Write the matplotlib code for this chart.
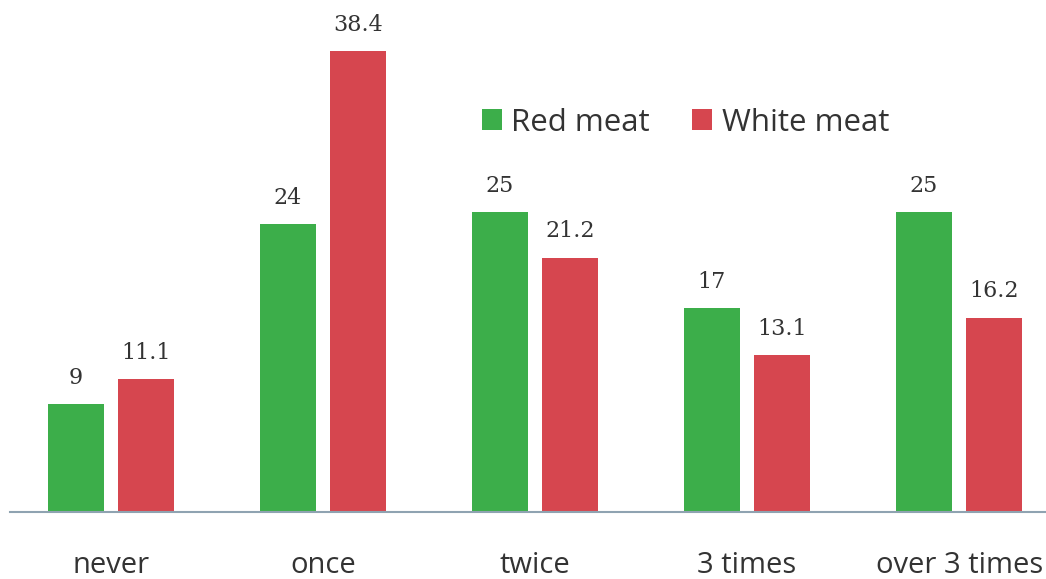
import numpy as np
import matplotlib.pyplot as plt

categories = ["never", "once", "twice", "3 times", "over 3 times"]
red_meat = [9, 24, 25, 17, 25]
white_meat = [11.1, 38.4, 21.2, 13.1, 16.2]
red_labels = ["9", "24", "25", "17", "25"]
white_labels = ["11.1", "38.4", "21.2", "13.1", "16.2"]

green = "#3cae4a"
red = "#d6464f"
font = ["Open Sans", "DejaVu Sans"]

fig = plt.figure(figsize=(10.46, 5.79), dpi=100)
ax = fig.add_axes([10 / 1046, 67 / 579, 1036 / 1046, 504 / 579])

x = np.arange(len(categories))
w = 0.264
off = 0.167
b1 = ax.bar(x - off, red_meat, w, color=green, label="Red meat")
b2 = ax.bar(x + off, white_meat, w, color=red, label="White meat")

# value labels sit about 20 px above each bar
for bars, labels in ((b1, red_labels), (b2, white_labels)):
    for bar, lab in zip(bars, labels):
        ax.annotate(lab, (bar.get_x() + bar.get_width() / 2, bar.get_height()),
                    xytext=(0, 14.5), textcoords="offset points",
                    ha="center", va="baseline", fontsize=16,
                    color="#333333", family="DejaVu Serif")

ax.set_xlim(-0.476, 4.41)
ax.set_ylim(0, 42)
ax.set_xticks(x)
ax.set_xticklabels(categories, fontsize=21, color="#333333", family=font)
ax.tick_params(axis="x", length=0, pad=28)
ax.set_yticks([])
for s in ("top", "right", "left"):
    ax.spines[s].set_visible(False)
ax.spines["bottom"].set_color("#8fa3b1")
ax.spines["bottom"].set_linewidth(1.5)

leg = fig.legend(loc="center left", bbox_to_anchor=(0.434, 0.788), ncol=2,
                 frameon=False, handlelength=0.64, handleheight=0.64,
                 handletextpad=0.3, columnspacing=1.35,
                 prop={"family": font, "size": 22.5})
for t in leg.get_texts():
    t.set_color("#333333")

fig.savefig("out.png", dpi=100)
